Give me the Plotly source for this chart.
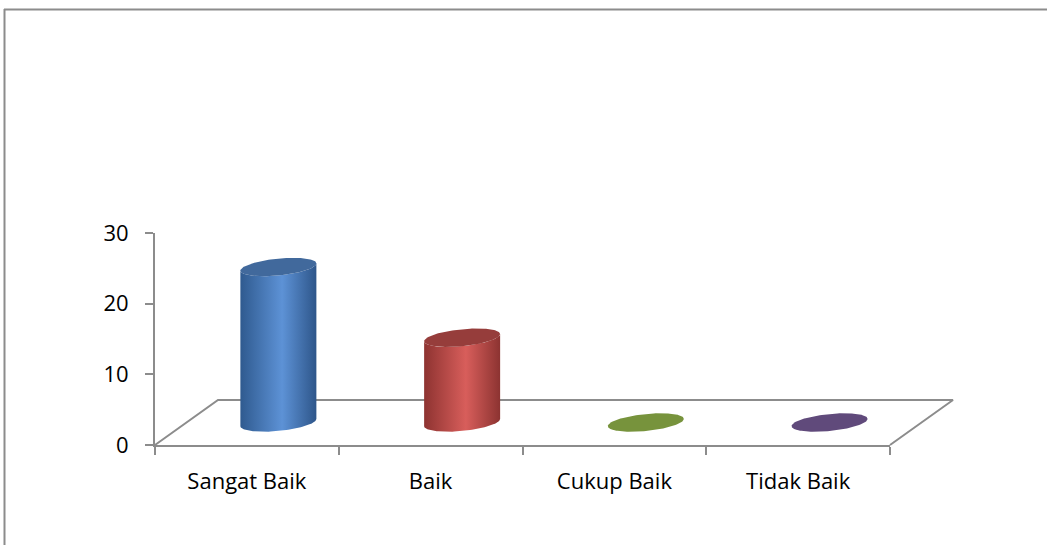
import numpy as np
import plotly.graph_objects as go

# ---- data ----
categories = ["Sangat Baik", "Baik", "Cukup Baik", "Tidak Baik"]
values = [22, 12, 0, 0]
y_ticks = [0, 10, 20, 30]

# ---- styling ----
body_scales = [
    [[0, "#2f5a8f"], [0.55, "#5d92d6"], [1, "#2e568a"]],
    [[0, "#8e3331"], [0.55, "#d85e5b"], [1, "#8c3331"]],
    [[0, "#5f7a2e"], [0.55, "#9bbb59"], [1, "#5f7a2e"]],
    [[0, "#4a3863"], [0.55, "#8064a2"], [1, "#4a3863"]],
]
cap_colors = ["#41699c", "#963d3b", "#77933c", "#604a7b"]
grid_col = "#8c8c8c"

W, H = 1047, 545
# pixel geometry of front plane
X0_PX, X1_PX = 155, 890         # front edge of floor
Y0_PX, Y30_PX = 445, 233        # value 0 and 30 on front axis
px_per_cat = (X1_PX - X0_PX) / len(categories)
px_per_val = (Y0_PX - Y30_PX) / 30.0
DEPTH_DX_PX, DEPTH_DY_PX = 63, 45

# hidden full-figure axes in "category / value" units
xr = [-X0_PX / px_per_cat, (W - X0_PX) / px_per_cat]
yr = [-(H - Y0_PX) / px_per_val, Y0_PX / px_per_val]
dxb = DEPTH_DX_PX / px_per_cat
dyb = DEPTH_DY_PX / px_per_val
A = 38 / px_per_cat      # half width of cylinder
B = 8.5 / px_per_val     # half height of ellipse
K = 3.6 / px_per_val     # tilt

fig = go.Figure()

# floor (left, back, right edges)
n = len(categories)
fig.add_trace(go.Scatter(
    x=[0, dxb, n + dxb, n], y=[0, dyb, dyb, 0], mode="lines",
    line=dict(color=grid_col, width=2), hoverinfo="skip", showlegend=False))

t = np.linspace(0, 2 * np.pi, 121)
for i, v in enumerate(values):
    cx = i + 0.5 + dxb / 2
    cy0 = dyb / 2
    cy1 = cy0 + v
    if v > 0:
        tl = np.linspace(np.pi, 2 * np.pi, 61)
        bx = [cx - A]
        by = [cy0 - K]
        bx += list(cx + A * np.cos(tl))
        by += list(cy1 + B * np.sin(tl) + K * np.cos(tl))
        tb = tl[::-1]
        bx += list(cx + A * np.cos(tb))
        by += list(cy0 + B * np.sin(tb) + K * np.cos(tb))
        fig.add_trace(go.Scatter(
            x=bx, y=by, mode="lines", fill="toself",
            line=dict(width=0), hoverinfo="skip", showlegend=False,
            fillgradient=dict(type="horizontal", colorscale=body_scales[i])))
    fig.add_trace(go.Scatter(
        x=cx + A * np.cos(t), y=cy1 + B * np.sin(t) + K * np.cos(t),
        mode="lines", fill="toself", fillcolor=cap_colors[i],
        line=dict(width=0), hoverinfo="skip", showlegend=False))

# carrier trace for visible axes
fig.add_trace(go.Scatter(
    x=categories, y=values, xaxis="x2", yaxis="y2", mode="markers",
    marker=dict(opacity=0), hoverinfo="skip", showlegend=False))

font = dict(family="Open Sans, sans-serif", size=22, color="#000000")

fig.update_layout(
    template="none",
    width=W, height=H, margin=dict(l=0, r=0, t=0, b=0, pad=0, autoexpand=False),
    paper_bgcolor="white", plot_bgcolor="rgba(0,0,0,0)",
    showlegend=False,
    xaxis=dict(range=xr, visible=False, domain=[0, 1], fixedrange=True,
               automargin=False),
    yaxis=dict(range=yr, visible=False, domain=[0, 1], fixedrange=True,
               automargin=False),
    xaxis2=dict(
        domain=[X0_PX / W, X1_PX / W], anchor="y2", type="category",
        range=[-0.5, n - 0.5], showline=True, linecolor=grid_col, linewidth=2,
        ticks="outside", tickson="boundaries", ticklen=8, tickcolor=grid_col,
        tickwidth=2, showgrid=False, zeroline=False, tickfont=font,
        ticklabelstandoff=16, automargin=False, fixedrange=True),
    yaxis2=dict(
        domain=[(H - Y0_PX) / H, (H - Y30_PX) / H], anchor="x2",
        range=[0, 30], tickvals=y_ticks, showline=True, linecolor=grid_col,
        linewidth=2, ticks="outside", ticklen=8, tickcolor=grid_col,
        tickwidth=2, showgrid=False, zeroline=False, tickfont=font,
        ticklabelstandoff=12, automargin=False, fixedrange=True),
    shapes=[
        dict(type="line", xref="paper", yref="paper", x0=4 / W, x1=1,
             y0=1 - 9.5 / H, y1=1 - 9.5 / H, line=dict(color="#8c8c8c", width=2)),
        dict(type="line", xref="paper", yref="paper", x0=4.5 / W, x1=4.5 / W,
             y0=0, y1=1 - 9 / H, line=dict(color="#8c8c8c", width=2)),
    ],
)

fig.write_html("out.html")
